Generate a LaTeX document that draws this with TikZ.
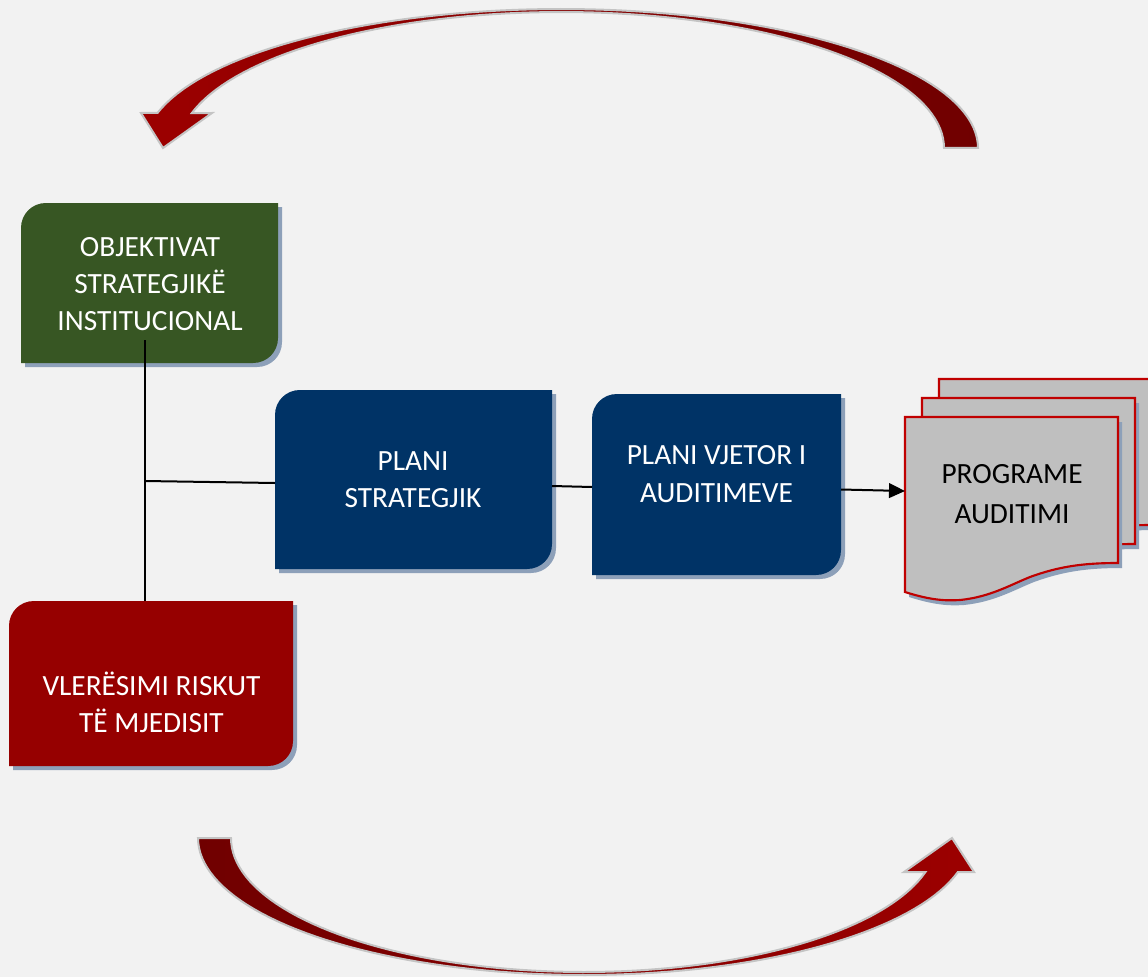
\documentclass[tikz,border=0pt]{standalone}
\usepackage{fontspec}
\setmainfont{Carlito}
\usetikzlibrary{calc,arrows.meta}
\definecolor{bg}{HTML}{F2F2F2}
\definecolor{boxgreen}{HTML}{375623}
\definecolor{boxblue}{HTML}{003366}
\definecolor{boxred}{HTML}{960000}
\definecolor{shad}{HTML}{8DA0B9}
\definecolor{docfill}{HTML}{BFBFBF}
\definecolor{docline}{HTML}{C00000}
\definecolor{arcdark}{HTML}{700000}
\definecolor{arclight}{HTML}{9C0000}
\definecolor{arcline}{HTML}{C4C4C4}
\newcommand\boxshape[4]{(#1,#2+25) .. controls (#1,#2+11) and (#1+11,#2) .. (#1+25,#2) -- (#3,#2) -- (#3,#4-25) .. controls (#3,#4-11) and (#3-11,#4) .. (#3-25,#4) -- (#1,#4) -- cycle}
\newcommand\mkbox[6]{%
  \fill[shad] \boxshape{#2+4}{#3+4}{#4+4}{#5+4};
  \fill[#6] \boxshape{#2}{#3}{#4}{#5};
  \node[anchorbox, minimum width={(#4-#2)*0.75pt}, minimum height={(#5-#3)*0.75pt}] (#1) at ({(#2+#4)/2},{(#3+#5)/2}) {};}
\newcommand\docshape[2]{(905+#1,417+#2) -- (1118+#1,417+#2) -- (1118+#1,563+#2) .. controls (1085+#1,563+#2) and (1060+#1,566+#2) .. (1030+#1,577+#2) .. controls (1010+#1,585+#2) and (990+#1,597+#2) .. (960+#1,600+#2) .. controls (945+#1,601+#2) and (930+#1,600+#2) .. (905+#1,592+#2) -- cycle}
\newcommand\mkdoc[2]{%
  \fill[shad] \docshape{#1+4}{#2+5};
  \filldraw[fill=docfill, draw=docline, line width=1.6pt] \docshape{#1}{#2};}
\tikzset{
  anchorbox/.style={inner sep=0pt, outer sep=0pt, draw=none, rectangle},
  boxtext/.style={text=white, align=center, inner sep=0pt, font=\fontsize{22}{28}\selectfont},
  doctext/.style={text=black, align=center, inner sep=0pt, font=\fontsize{22}{30}\selectfont},
  bigarc/.style={draw=arcline, line width=1.5pt, line join=miter},
  conn/.style={draw=black, line width=1.5pt},
}
\begin{document}
\begin{tikzpicture}[x=0.75pt,y=-0.75pt]
\useasboundingbox (0,0) rectangle (1148,977);
\fill[bg] (0,0) rectangle (1148,977);
\clip (0,0) rectangle (1148,977);

% curved arrows
\path[bigarc, left color=arclight, right color=arcdark]
  plot[domain=0:165.4, samples=80] ({561+417*cos(\x)}, {148-139*sin(\x)})
  -- (141,113) -- (163,148) -- (212,113)
  -- plot[domain=165.1:0, samples=80] ({561.5+382.5*cos(\x)}, {148-136*sin(\x)})
  -- cycle;
\path[bigarc, left color=arcdark, right color=arclight]
  plot[domain=180:14.37, samples=80] ({584+386*cos(\x)}, {838+137*sin(\x)})
  -- (974,872) -- (952,838) -- (904,872)
  -- plot[domain=14.7:180, samples=80] ({584+353*cos(\x)}, {838+134*sin(\x)})
  -- cycle;

% boxes
\mkbox{green}{21}{203}{278}{363}{boxgreen}
\mkbox{blue1}{275}{390}{552}{569}{boxblue}
\mkbox{blue2}{592}{394}{841}{575}{boxblue}
\mkbox{red}{9}{601}{293}{766}{boxred}

% documents
\mkdoc{34}{-38}
\mkdoc{17}{-19}
\mkdoc{0}{0}
\node[anchorbox, minimum width={213*0.75pt}, minimum height={175*0.75pt}] (prog) at (1011.5,504.5) {};

% connectors
\coordinate (vtop) at (145,340);
\coordinate (junc) at (145,481);
\draw[draw=black, line width=1pt] (vtop) -- (vtop |- red.north);
\draw[conn] (junc) -- ($(blue1.west)+(0,3.5)$);
\draw[conn] ($(blue1.east)+(0,6.5)$) -- ($(blue2.west)+(0,2.5)$);
\draw[conn, -{Triangle[length=12pt,width=11pt]}] ($(blue2.east)+(0,5)$) -- ($(prog.west)+(0,-13.5)$);

% texts
\node[boxtext] (greentxt) at (150,284) {OBJEKTIVAT\\STRATEGJIKË\\INSTITUCIONAL};
\node[boxtext] (blue1txt) at (413,480) {PLANI\\STRATEGJIK};
\node[boxtext] (blue2txt) at (716.5,474) {PLANI VJETOR I\\AUDITIMEVE};
\node[boxtext] (redtxt) at (151.5,702.5) {VLERËSIMI RISKUT\\TË MJEDISIT};
\node[doctext] (progtxt) at (1012,494) {PROGRAME\\AUDITIMI};
\end{tikzpicture}
\end{document}
